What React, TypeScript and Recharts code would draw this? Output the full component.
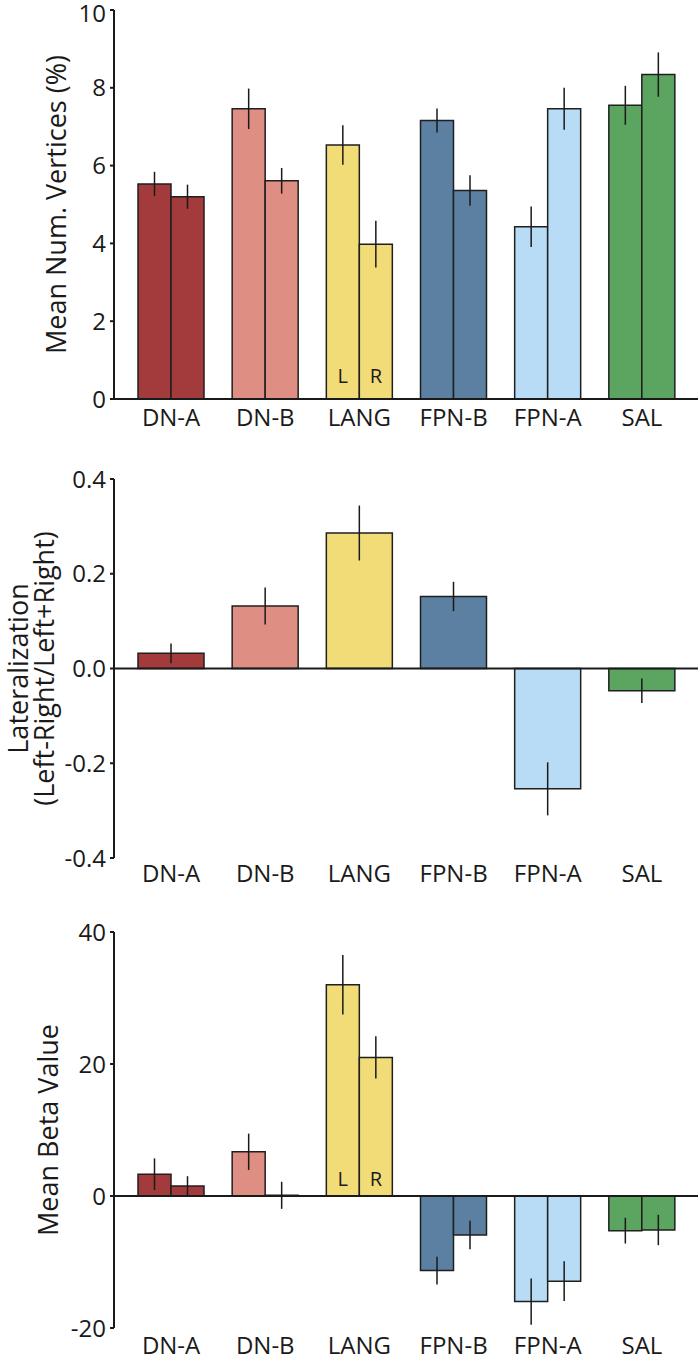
import { BarChart, Bar, XAxis, YAxis, ErrorBar, Cell, LabelList, ReferenceLine } from 'recharts';

const categories = ['DN-A', 'DN-B', 'LANG', 'FPN-B', 'FPN-A', 'SAL'];
const networkColors = ['#a33a3c', '#df8e84', '#f2dc78', '#5b80a1', '#b8dcf5', '#5ba560'];

// panel 1: mean number of vertices, left / right hemisphere
const verticesLeft = [5.53, 7.46, 6.53, 7.16, 4.43, 7.55];
const verticesLeftErr = [0.31, 0.52, 0.51, 0.31, 0.52, 0.5];
const verticesRight = [5.2, 5.61, 3.98, 5.36, 7.46, 8.34];
const verticesRightErr = [0.31, 0.33, 0.6, 0.39, 0.54, 0.57];
const verticesTicks = [0, 2, 4, 6, 8, 10];

// panel 2: lateralization index
const lateralization = [0.032, 0.132, 0.286, 0.152, -0.254, -0.047];
const lateralizationErr = [0.021, 0.039, 0.058, 0.031, 0.056, 0.026];
const lateralizationTicks = [-0.4, -0.2, 0, 0.2, 0.4];

// panel 3: mean beta value, left / right
const betaLeft = [3.3, 6.7, 32.0, -11.3, -16.0, -5.25];
const betaLeftErr = [2.4, 2.75, 4.5, 2.1, 3.5, 1.95];
const betaRight = [1.5, 0.1, 21.0, -5.9, -12.9, -5.15];
const betaRightErr = [1.5, 2.05, 3.2, 2.15, 3.0, 2.3];
const betaTicks = [-20, 0, 20, 40];

const tagCategory = 'LANG';

const FONT = '"Open Sans", sans-serif';
const INK = '#1a1a1a';

const pairData = (left: number[], leftErr: number[], right: number[], rightErr: number[]) =>
  categories.map((name, i) => ({
    name,
    left: left[i],
    leftErr: leftErr[i],
    right: right[i],
    rightErr: rightErr[i],
    tagL: name === tagCategory ? 'L' : '',
    tagR: name === tagCategory ? 'R' : '',
  }));

const verticesData = pairData(verticesLeft, verticesLeftErr, verticesRight, verticesRightErr);
const betaData = pairData(betaLeft, betaLeftErr, betaRight, betaRightErr);
const latData = categories.map((name, i) => ({
  name,
  value: lateralization[i],
  err: lateralizationErr[i],
}));

const yLabel = (lines: string[], xs: number[]) => (props: any) => {
  const vb = props.viewBox || {};
  const cy = (vb.y ?? 0) + (vb.height ?? 0) / 2;
  return (
    <g>
      {lines.map((t, i) => (
        <text
          key={t}
          x={xs[i]}
          y={cy}
          transform={`rotate(-90, ${xs[i]}, ${cy})`}
          textAnchor="middle"
          dominantBaseline="central"
          fontSize={27}
          fontFamily={FONT}
          fill={INK}
        >
          {t}
        </text>
      ))}
    </g>
  );
};

const tagLabel = (lift: number) => (props: any) => {
  const { x, y, width, height, value } = props;
  if (!value) return null;
  return (
    <text
      x={Number(x) + Number(width) / 2}
      y={Number(y) + Number(height) - lift}
      textAnchor="middle"
      fontSize={20}
      fontFamily={FONT}
      fill={INK}
    >
      {value}
    </text>
  );
};

const axisTick = { fontSize: 24, fontFamily: FONT, fill: INK };
const axisStroke = { stroke: INK, strokeWidth: 2 };
const chartStyle = { overflow: 'visible' };

const xAxisProps = {
  dataKey: 'name',
  type: 'category' as const,
  interval: 0,
  tickLine: false,
  tickSize: 0,
  tick: axisTick,
  padding: { left: 10, right: 9 },
};

const barStroke = { stroke: '#1f1f1f', strokeWidth: 1.5 };

export default function App() {
  return (
    <div style={{ position: 'absolute', left: 0, top: 0, width: 700, height: 1357, background: '#fff' }}>
      {/* top: vertices */}
      <div style={{ position: 'absolute', left: 0, top: 0 }}>
        <BarChart
          width={700}
          height={440}
          data={verticesData}
          margin={{ top: 10, right: 2, left: 0, bottom: 0 }}
          barGap={0}
          barSize={33}
          style={chartStyle}
        >
          <XAxis {...xAxisProps} height={41} tickMargin={10} axisLine={axisStroke} />
          <YAxis
            width={114}
            domain={[0, 10]}
            ticks={verticesTicks}
            tick={axisTick}
            tickSize={4}
            tickMargin={4}
            axisLine={axisStroke}
            tickLine={axisStroke}
            label={yLabel(['Mean Num. Vertices (%)'], [55])}
          />
          <Bar dataKey="left" {...barStroke} isAnimationActive={false}>
            {verticesData.map((d, i) => (
              <Cell key={d.name} fill={networkColors[i]} />
            ))}
            <ErrorBar dataKey="leftErr" width={0} stroke={INK} strokeWidth={1.5} direction="y" />
            <LabelList dataKey="tagL" content={tagLabel(16)} />
          </Bar>
          <Bar dataKey="right" {...barStroke} isAnimationActive={false}>
            {verticesData.map((d, i) => (
              <Cell key={d.name} fill={networkColors[i]} />
            ))}
            <ErrorBar dataKey="rightErr" width={0} stroke={INK} strokeWidth={1.5} direction="y" />
            <LabelList dataKey="tagR" content={tagLabel(16)} />
          </Bar>
        </BarChart>
      </div>

      {/* middle: lateralization */}
      <div style={{ position: 'absolute', left: 0, top: 440 }}>
        <BarChart
          width={700}
          height={460}
          data={latData}
          margin={{ top: 39, right: 2, left: 0, bottom: 0 }}
          barSize={66}
          style={chartStyle}
        >
          <XAxis {...xAxisProps} height={42} tickMargin={7} axisLine={false} />
          <YAxis
            width={114}
            domain={[-0.4, 0.4]}
            ticks={lateralizationTicks}
            tickFormatter={(v: number) => v.toFixed(1)}
            tick={axisTick}
            tickSize={4}
            tickMargin={4}
            axisLine={axisStroke}
            tickLine={axisStroke}
            label={yLabel(['Lateralization', '(Left-Right/Left+Right)'], [17, 43])}
          />
          <ReferenceLine y={0} stroke={INK} strokeWidth={2} />
          <Bar dataKey="value" {...barStroke} isAnimationActive={false}>
            {latData.map((d, i) => (
              <Cell key={d.name} fill={networkColors[i]} />
            ))}
            <ErrorBar dataKey="err" width={0} stroke={INK} strokeWidth={1.5} direction="y" />
          </Bar>
        </BarChart>
      </div>

      {/* bottom: beta values */}
      <div style={{ position: 'absolute', left: 0, top: 900 }}>
        <BarChart
          width={700}
          height={457}
          data={betaData}
          margin={{ top: 32, right: 2, left: 0, bottom: 0 }}
          barGap={0}
          barSize={33}
          style={chartStyle}
        >
          <XAxis {...xAxisProps} height={29} tickMargin={9} axisLine={false} />
          <YAxis
            width={114}
            domain={[-20, 40]}
            ticks={betaTicks}
            tick={axisTick}
            tickSize={4}
            tickMargin={4}
            axisLine={axisStroke}
            tickLine={axisStroke}
            label={yLabel(['Mean Beta Value'], [47])}
          />
          <ReferenceLine y={0} stroke={INK} strokeWidth={2} />
          <Bar dataKey="left" {...barStroke} isAnimationActive={false}>
            {betaData.map((d, i) => (
              <Cell key={d.name} fill={networkColors[i]} />
            ))}
            <ErrorBar dataKey="leftErr" width={0} stroke={INK} strokeWidth={1.5} direction="y" />
            <LabelList dataKey="tagL" content={tagLabel(10)} />
          </Bar>
          <Bar dataKey="right" {...barStroke} isAnimationActive={false}>
            {betaData.map((d, i) => (
              <Cell key={d.name} fill={networkColors[i]} />
            ))}
            <ErrorBar dataKey="rightErr" width={0} stroke={INK} strokeWidth={1.5} direction="y" />
            <LabelList dataKey="tagR" content={tagLabel(10)} />
          </Bar>
        </BarChart>
      </div>
    </div>
  );
}
